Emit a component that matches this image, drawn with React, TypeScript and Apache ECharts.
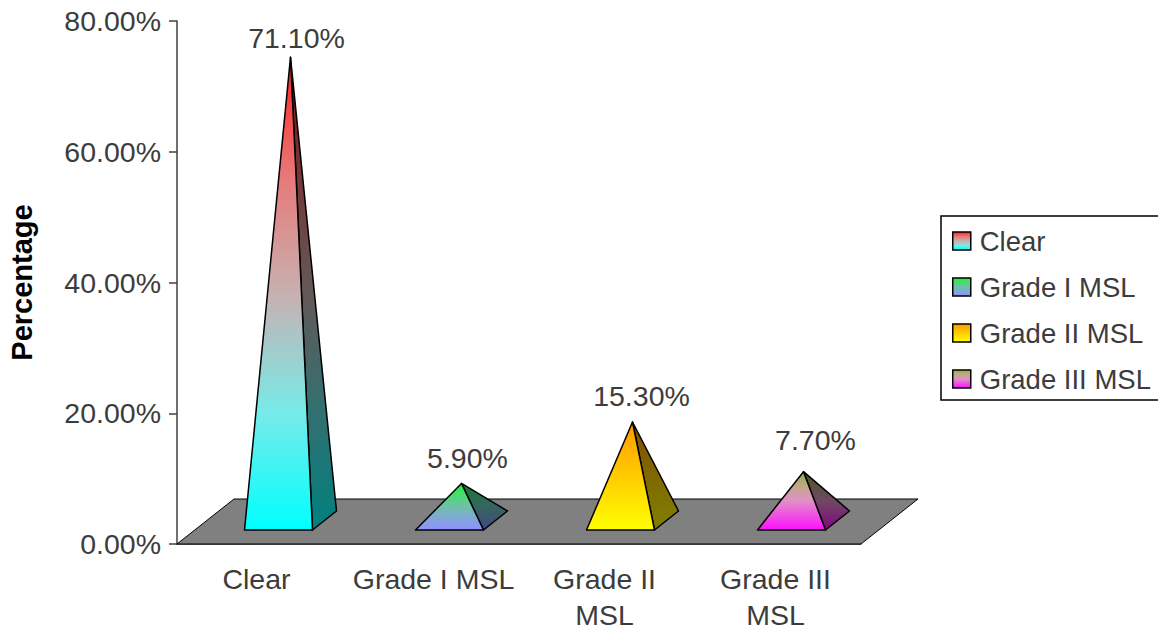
import React, { useEffect, useRef } from "react";
import * as echarts from "echarts";

// Share of cases per grade, as printed above each pyramid.
const categories = ["Clear", "Grade I MSL", "Grade II MSL", "Grade III MSL"];
const tickLabels = ["{first|Clear}", "Grade I MSL", "Grade II\nMSL", "Grade III\nMSL"];
const values = [71.1, 5.9, 15.3, 7.7];
const valueLabels = ["71.10%", "5.90%", "15.30%", "7.70%"];
const yTicks = { min: 0, max: 80, interval: 20 };

// Gradient stops, top to bottom, for the lit and the shaded face of each pyramid.
const frontStops = [
  ["#ff2020", "#e87878", "#c8b0b0", "#78eaea", "#00ffff"],
  ["#20f040", "#48dc70", "#70c0a8", "#80a8d8", "#9090ff"],
  ["#ff9900", "#ffb300", "#ffcc00", "#ffe600", "#ffff00"],
  ["#90b040", "#c0a888", "#e090c8", "#f050e4", "#ff10ff"],
];
const sideStops = [
  ["#801010", "#743838", "#645858", "#327070", "#008080"],
  ["#108030", "#247048", "#386460", "#3c5670", "#404880"],
  ["#805000", "#805c00", "#806800", "#807400", "#808000"],
  ["#485820", "#5c5040", "#704864", "#782870", "#800880"],
];

// Per-label nudge from the pyramid's apex, in pixels.
const labelNudge = [
  [6, -19],
  [6, -25],
  [9, -26],
  [12, -32],
];

const FONT = '"Liberation Sans", Arial, sans-serif';
const TEXT = "#3c3c3c";
const AXIS = "#404040";
const FONT_SIZE = 28.5;

const gradient = (stops: string[]) =>
  new echarts.graphic.LinearGradient(
    0,
    0,
    0,
    1,
    stops.map((color, i) => ({ offset: i / (stops.length - 1), color })),
  );

// The grey floor the pyramids stand on, sheared back from the category axis.
const renderFloor = (params: any) => {
  const { x, y, width, height } = params.coordSys;
  const bottom = y + height;
  return {
    type: "polygon",
    shape: {
      points: [
        [x, bottom],
        [x + width, bottom],
        [x + width + 57, bottom - 45],
        [x + 57, bottom - 45],
      ],
    },
    style: { fill: "#808080", stroke: "#000", lineWidth: 1 },
  };
};

// One pyramid: lit front face, shaded right face, and its value printed near the apex.
const renderPyramid = (index: number) => (_params: any, api: any) => {
  const [cx, top] = api.coord([api.value(0), api.value(1)]);
  const [, floorY] = api.coord([api.value(0), 0]);
  const baseY = floorY - 14;
  const left: number[] = [cx - 18, baseY];
  const right: number[] = [cx + 50, baseY];
  const back: number[] = [cx + 74, baseY - 19];
  const apex: number[] = [cx + 28, top - 22];
  const edge = { stroke: "#000", lineWidth: 1.5, lineJoin: "round" };
  return {
    type: "group",
    children: [
      {
        type: "polygon",
        shape: { points: [right, back, apex] },
        style: { fill: gradient(sideStops[index]), ...edge },
      },
      {
        type: "polygon",
        shape: { points: [left, right, apex] },
        style: { fill: gradient(frontStops[index]), ...edge },
      },
      {
        type: "text",
        style: {
          x: apex[0] + labelNudge[index][0],
          y: apex[1] + labelNudge[index][1],
          text: valueLabels[index],
          align: "center",
          verticalAlign: "middle",
          fill: TEXT,
          fontSize: FONT_SIZE,
          fontFamily: FONT,
        },
      },
    ],
  };
};

export default function App() {
  const host = useRef<HTMLDivElement>(null);

  useEffect(() => {
    const chart = echarts.init(host.current!, undefined, { renderer: "svg" });
    chart.setOption({
      animation: false,
      backgroundColor: "#fff",
      grid: { left: 177, top: 21, width: 684, height: 523, outerBoundsMode: "none" },
      legend: {
        orient: "vertical",
        left: 941,
        top: 216,
        padding: [11, 24, 7, 11],
        itemGap: 18,
        itemWidth: 18,
        itemHeight: 18,
        icon: "rect",
        backgroundColor: "#fff",
        borderColor: "#000",
        borderWidth: 1.5,
        textStyle: { color: TEXT, fontSize: 27.5, fontFamily: FONT, padding: [0, 0, 0, 4] },
        data: categories.map((name, i) => ({
          name,
          itemStyle: {
            color: gradient(frontStops[i]),
            borderColor: "#000",
            borderWidth: 1.5,
          },
        })),
      },
      xAxis: {
        type: "category",
        data: categories,
        axisLine: { lineStyle: { color: AXIS, width: 1.5 } },
        axisTick: { length: 8, lineStyle: { color: AXIS, width: 1.5 } },
        axisLabel: {
          interval: 0,
          margin: 17,
          color: TEXT,
          fontSize: FONT_SIZE,
          lineHeight: 36,
          fontFamily: FONT,
          rich: {
            first: {
              fontSize: FONT_SIZE,
              fontFamily: FONT,
              color: TEXT,
              lineHeight: 36,
              padding: [0, 12, 0, 0],
            },
          },
          formatter: (_: string, i: number) => tickLabels[i],
        },
      },
      yAxis: {
        type: "value",
        ...yTicks,
        name: "Percentage",
        nameLocation: "middle",
        nameGap: 141,
        nameTextStyle: { color: "#000", fontSize: 29, fontWeight: "bold", fontFamily: FONT },
        splitLine: { show: false },
        axisLine: { show: true, lineStyle: { color: AXIS, width: 1.5 } },
        axisTick: { show: true, length: 8, lineStyle: { color: AXIS, width: 1.5 } },
        axisLabel: {
          margin: 16,
          color: TEXT,
          fontSize: FONT_SIZE,
          fontFamily: FONT,
          formatter: (v: number) => `${v.toFixed(2)}%`,
        },
      },
      series: [
        { type: "custom", name: "floor", data: [[0, 0]], renderItem: renderFloor, silent: true },
        ...categories.map((name, i) => ({
          type: "custom",
          name,
          data: [[i, values[i]]],
          itemStyle: { color: gradient(frontStops[i]) },
          renderItem: renderPyramid(i),
        })),
      ],
    });
    return () => chart.dispose();
  }, []);

  return (
    <div
      ref={host}
      style={{ position: "absolute", left: 0, top: 0, width: 1158, height: 632 }}
    />
  );
}
